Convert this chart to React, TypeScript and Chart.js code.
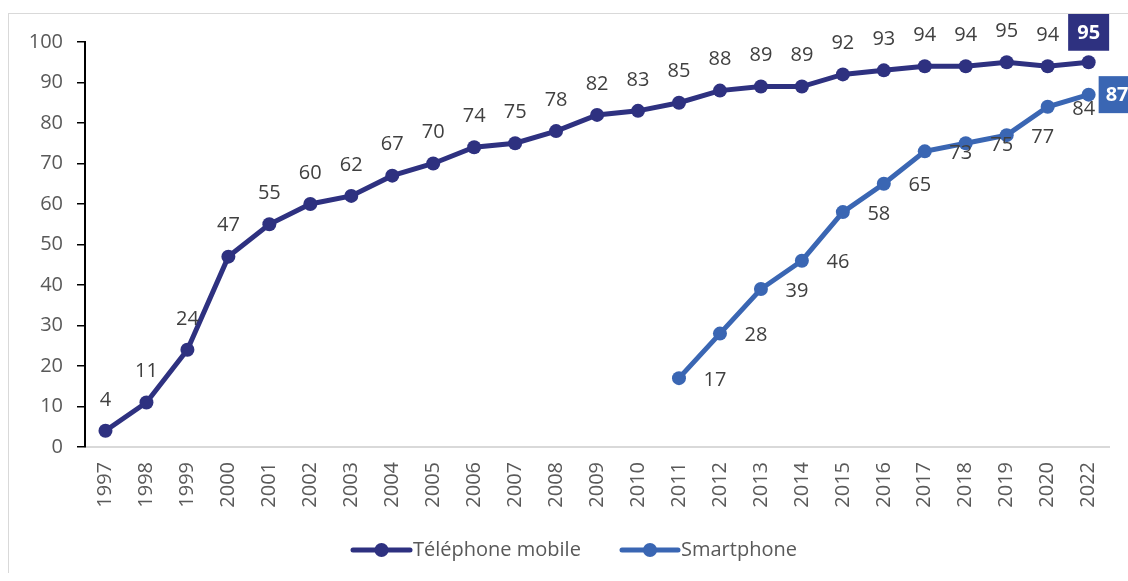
import React, { useEffect, useRef } from "react";
import { Chart, registerables } from "chart.js";

Chart.register(...registerables);

const years = [
  "1997", "1998", "1999", "2000", "2001", "2002", "2003", "2004", "2005",
  "2006", "2007", "2008", "2009", "2010", "2011", "2012", "2013", "2014",
  "2015", "2016", "2017", "2018", "2019", "2020", "2022",
];

const mobile = [
  4, 11, 24, 47, 55, 60, 62, 67, 70, 74, 75, 78, 82, 83, 85, 88, 89, 89, 92,
  93, 94, 94, 95, 94, 95,
];

const smartphone = [
  null, null, null, null, null, null, null, null, null, null, null, null, null,
  null, 17, 28, 39, 46, 58, 65, 73, 75, 77, 84, 87,
];

const seriesNames = ["Téléphone mobile", "Smartphone"];
const seriesColors = ["#2e3180", "#3a66b3"];
const yTicks = { min: 0, max: 100, step: 10 };

const FONT = "'Open Sans', 'Liberation Sans', sans-serif";
const TEXT = "#404040";
const AXIS_TEXT = "#595959";

const labelsPlugin = {
  id: "valueLabels",
  afterDatasetsDraw(chart: any) {
    const ctx = chart.ctx;
    ctx.save();
    chart.data.datasets.forEach((ds: any, di: number) => {
      const meta = chart.getDatasetMeta(di);
      const n = ds.data.length;
      ds.data.forEach((v: any, i: number) => {
        if (v === null || v === undefined) return;
        const pt = meta.data[i];
        const x = pt.x;
        const y = pt.y;
        const text = String(v);
        const last = i === n - 1;
        if (di === 0) {
          if (last) {
            const w = 41, h = 37;
            const cy = y - 30;
            ctx.fillStyle = seriesColors[0];
            ctx.fillRect(x - w / 2, cy - h / 2, w, h);
            ctx.fillStyle = "#ffffff";
            ctx.font = `bold 20px ${FONT}`;
            ctx.textAlign = "center";
            ctx.textBaseline = "middle";
            ctx.fillText(text, x, cy + 1);
          } else {
            ctx.fillStyle = TEXT;
            ctx.font = `20px ${FONT}`;
            ctx.textAlign = "center";
            ctx.textBaseline = "middle";
            ctx.fillText(text, x, y - 31);
          }
        } else {
          if (last) {
            const w = 41, h = 37;
            const left = x + 10;
            ctx.fillStyle = seriesColors[1];
            ctx.fillRect(left, y - h / 2, w, h);
            ctx.fillStyle = "#ffffff";
            ctx.font = `bold 20px ${FONT}`;
            ctx.textAlign = "left";
            ctx.textBaseline = "middle";
            ctx.fillText(text, left + 7, y + 1);
          } else {
            ctx.fillStyle = TEXT;
            ctx.font = `20px ${FONT}`;
            ctx.textAlign = "center";
            ctx.textBaseline = "middle";
            ctx.fillText(text, x + 36, y + 2);
          }
        }
      });
    });
    ctx.restore();
  },
};

const legendPlugin = {
  id: "customLegend",
  afterDraw(chart: any) {
    const ctx = chart.ctx;
    ctx.save();
    const y = 536;
    const items = [
      { x0: 344, x1: 401, text: seriesNames[0], color: seriesColors[0] },
      { x0: 613, x1: 669, text: seriesNames[1], color: seriesColors[1] },
    ];
    items.forEach((it) => {
      ctx.strokeStyle = it.color;
      ctx.lineWidth = 5;
      ctx.lineCap = "round";
      ctx.beginPath();
      ctx.moveTo(it.x0, y);
      ctx.lineTo(it.x1, y);
      ctx.stroke();
      ctx.fillStyle = it.color;
      ctx.beginPath();
      ctx.arc((it.x0 + it.x1) / 2, y, 7, 0, Math.PI * 2);
      ctx.fill();
      ctx.fillStyle = AXIS_TEXT;
      ctx.font = `20px ${FONT}`;
      ctx.textAlign = "left";
      ctx.textBaseline = "middle";
      ctx.fillText(it.text, it.x1 + 3, y);
    });
    ctx.restore();
  },
};

export default function App() {
  const ref = useRef<HTMLCanvasElement | null>(null);

  useEffect(() => {
    if (!ref.current) return;
    const chart = new Chart(ref.current, {
      type: "line",
      data: {
        labels: years,
        datasets: [
          {
            label: seriesNames[0],
            data: mobile,
            borderColor: seriesColors[0],
            backgroundColor: seriesColors[0],
            borderWidth: 5,
            pointRadius: 7,
            pointHoverRadius: 7,
            pointBorderWidth: 0,
            tension: 0,
          },
          {
            label: seriesNames[1],
            data: smartphone,
            borderColor: seriesColors[1],
            backgroundColor: seriesColors[1],
            borderWidth: 5,
            pointRadius: 7,
            pointHoverRadius: 7,
            pointBorderWidth: 0,
            tension: 0,
            spanGaps: false,
          },
        ],
      },
      options: {
        responsive: false,
        animation: false,
        layout: { padding: { top: 28, right: 18, left: 0, bottom: 0 } },
        plugins: {
          legend: { display: false },
          tooltip: { enabled: false },
        },
        scales: {
          x: {
            type: "category",
            offset: true,
            grid: { display: false, drawTicks: false },
            border: { display: true, color: "#d9d9d9", width: 2 },
            ticks: {
              color: AXIS_TEXT,
              font: { family: FONT, size: 20 },
              minRotation: 90,
              maxRotation: 90,
              padding: 15,
              autoSkip: false,
            },
            afterFit(scale: any) {
              scale.height = 126;
            },
          },
          y: {
            min: yTicks.min,
            max: yTicks.max,
            grid: {
              display: true,
              drawOnChartArea: false,
              drawTicks: true,
              tickLength: 8,
              color: "#000000",
              lineWidth: 1.5,
            },
            border: { display: true, color: "#000000", width: 2 },
            ticks: {
              stepSize: yTicks.step,
              color: AXIS_TEXT,
              font: { family: FONT, size: 20 },
              padding: 14,
            },
            afterFit(scale: any) {
              scale.width = 76;
            },
          },
        },
      },
      plugins: [labelsPlugin, legendPlugin],
    });
    return () => chart.destroy();
  }, []);

  return (
    <div
      style={{
        position: "absolute",
        left: 8,
        top: 13,
        borderTop: "1px solid #d9d9d9",
        borderLeft: "1px solid #d9d9d9",
        width: 1119,
        height: 559,
        overflow: "hidden",
      }}
    >
      <canvas ref={ref} width={1119} height={559} style={{ display: "block" }} />
    </div>
  );
}
